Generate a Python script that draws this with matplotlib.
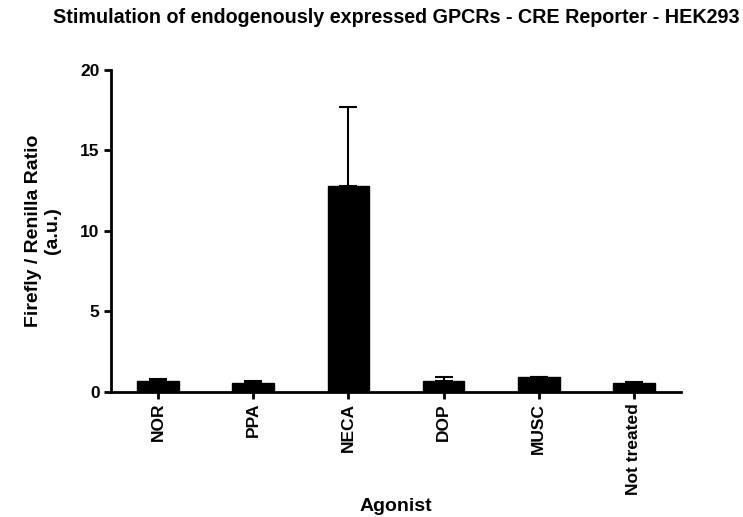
import numpy as np
import matplotlib
matplotlib.use("Agg")
import matplotlib.pyplot as plt

# Data
agonists = ["NOR", "PPA", "NECA", "DOP", "MUSC", "Not treated"]
ratio_mean = [0.65, 0.58, 12.8, 0.70, 0.90, 0.58]
ratio_err = [0.15, 0.12, 4.9, 0.20, 0.05, 0.02]

plt.rcParams['font.family'] = ['Liberation Sans', 'DejaVu Sans']
plt.rcParams['font.weight'] = 'bold'

fig = plt.figure(figsize=(7.43, 5.17), dpi=100)
ax = fig.add_axes([0.149, 0.242, 0.768, 0.623])

x = np.arange(len(agonists))
ax.bar(x, ratio_mean, width=0.44, color='black', edgecolor='black', linewidth=1)
ax.errorbar(x, ratio_mean, yerr=[np.zeros(len(x)), ratio_err], fmt='none',
            ecolor='black', elinewidth=1.5, capsize=6.5, capthick=1.5)

ax.set_xlim(-0.5, 5.5)
ax.set_ylim(0, 20)
ax.set_yticks([0, 5, 10, 15, 20])
ax.set_xticks(x)
ax.set_xticklabels(agonists, rotation=90, fontsize=12.5, fontweight='bold')
for lab in ax.get_yticklabels():
    lab.set_fontsize(12.5)
    lab.set_fontweight('bold')

for side in ['top', 'right']:
    ax.spines[side].set_visible(False)
for side in ['left', 'bottom']:
    ax.spines[side].set_linewidth(2)
ax.tick_params(axis='both', width=2, length=5, direction='out', pad=3)

ax.set_xlabel("Agonist", fontsize=14, fontweight='bold')
ax.xaxis.set_label_coords(0.5, -0.328)
ax.set_ylabel("Firefly / Renilla Ratio\n(a.u.)", fontsize=14, fontweight='bold',
              labelpad=14, linespacing=1.1)
ax.set_title("Stimulation of endogenously expressed GPCRs - CRE Reporter - HEK293",
             fontsize=14.2, fontweight='bold', pad=34)

fig.savefig("out.png", dpi=100)
